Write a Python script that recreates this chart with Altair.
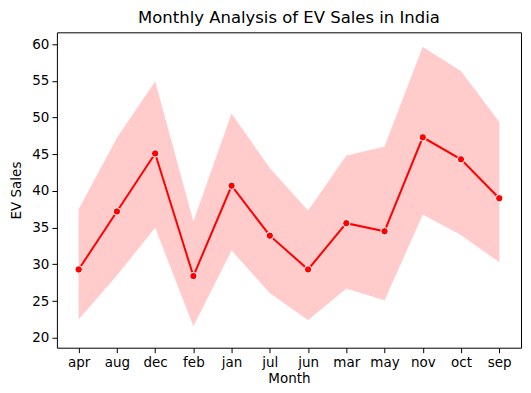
import altair as alt
import pandas as pd

months = ["apr", "aug", "dec", "feb", "jan", "jul", "jun", "mar", "may", "nov", "oct", "sep"]
sales = [29.3, 37.2, 45.1, 28.4, 40.7, 33.9, 29.3, 35.6, 34.5, 47.3, 44.3, 39.0]
ci_low = [22.5, 28.5, 35.0, 21.6, 31.9, 26.1, 22.4, 26.7, 25.1, 36.8, 34.0, 30.3]
ci_high = [37.5, 47.2, 54.9, 35.8, 50.5, 43.1, 37.3, 44.8, 46.0, 59.6, 56.3, 49.4]

df = pd.DataFrame({"Month": months, "EV Sales": sales, "lo": ci_low, "hi": ci_high})

font = "DejaVu Sans"
x = alt.X("Month:N", sort=months, title="Month",
          scale=alt.Scale(type="point", padding=0.57),
          axis=alt.Axis(labelAngle=0, domain=False, grid=False, tickColor="black",
                        tickSize=5, labelFontSize=13.5, titleFontSize=13.5, labelFont=font,
                        titleFont=font, labelColor="black", titleColor="black",
                        titleFontWeight="normal", labelPadding=3, titlePadding=2))
yscale = alt.Scale(domain=[18.64, 61.6], nice=False, zero=False)
yaxis = alt.Axis(values=[20, 25, 30, 35, 40, 45, 50, 55, 60], domain=False, grid=False,
                 tickColor="black", tickSize=5, labelFontSize=13.5, titleFontSize=13.5,
                 labelFont=font, titleFont=font, labelColor="black", titleColor="black",
                 titleFontWeight="normal", labelPadding=3, titlePadding=8)

band = alt.Chart(df).mark_area(color="#ff0000", opacity=0.2, stroke="#ff0000",
                               strokeOpacity=0.2, strokeWidth=1).encode(
    x=x,
    y=alt.Y("lo:Q", scale=yscale, axis=yaxis, title="EV Sales"),
    y2="hi:Q",
)
line = alt.Chart(df).mark_line(color="#ff0000", strokeWidth=2).encode(
    x=x, y=alt.Y("EV Sales:Q", scale=yscale, axis=yaxis, title="EV Sales"))
pts = alt.Chart(df).mark_point(filled=True, fill="#ff0000", stroke="white", strokeWidth=1,
                               size=55, opacity=1).encode(
    x=x, y=alt.Y("EV Sales:Q", scale=yscale, axis=yaxis, title="EV Sales"))

chart = alt.layer(band, line, pts).properties(
    width=465, height=316,
    background="white",
    title=alt.TitleParams("Monthly Analysis of EV Sales in India", font=font, fontSize=16.5,
                          fontWeight="normal", color="black", offset=6),
    autosize=alt.AutoSizeParams(type="none"),
    padding={"left": 49, "top": 24, "right": 2, "bottom": 37},
).configure_view(stroke="black", strokeWidth=1)

chart.save("out.html", embed_options={"renderer": "svg", "actions": False})
